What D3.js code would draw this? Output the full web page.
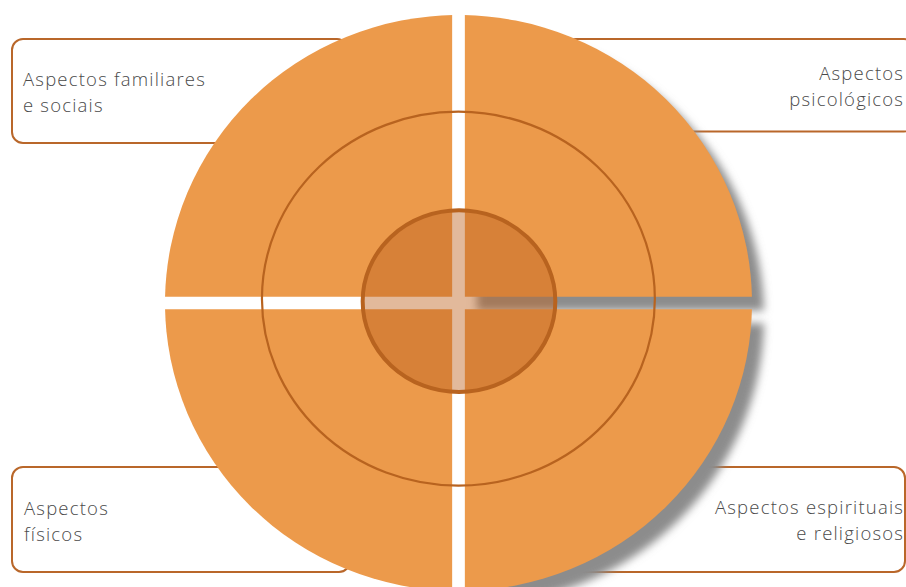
<!DOCTYPE html>
<html>
<head>
<meta charset="utf-8">
<script src="https://cdn.jsdelivr.net/npm/d3@7"></script>
<style>
  html, body { margin: 0; padding: 0; background: #fff; }
  svg { display: block; }
</style>
</head>
<body>
<svg id="chart" width="906" height="587"></svg>
<script>
// ---- data ----
const categories = ["Aspectos familiares e sociais", "Aspectos psicológicos", "Aspectos espirituais e religiosos", "Aspectos físicos"];
const labelLines = [
  ["Aspectos familiares", "e sociais"],
  ["Aspectos", "psicológicos"],
  ["Aspectos espirituais", "e religiosos"],
  ["Aspectos", "físicos"]
];
const quadrantValues = [1, 1, 1, 1];
const ringLevels = [1 / 3, 2 / 3, 1];

// ---- layout ----
const W = 906, H = 587;
const cx = 458.5, cy = 303;
const RX = 293.5, RY = 288;
const gap = 12.7;
const orange = "#EC9A4B";
const brown = "#B8631F";

const svg = d3.select("#chart");
const defs = svg.append("defs");
const blur = defs.append("filter").attr("id", "blur")
  .attr("x", "-20%").attr("y", "-20%").attr("width", "140%").attr("height", "140%");
blur.append("feGaussianBlur").attr("stdDeviation", 4.5);

const r = d3.scaleLinear().domain([0, 1]).range([0, RX]);

// label boxes (behind the disc)
const boxes = [
  { x: 12, y: 39, w: 336, h: 104, anchor: "start", tx: 23, ty: 86 },
  { x: 565, y: 39, w: 350, h: 92.5, anchor: "end", tx: 904.2, ty: 80 },
  { x: 570, y: 467, w: 335, h: 105, anchor: "end", tx: 904.2, ty: 514 },
  { x: 12, y: 467, w: 338, h: 105, anchor: "start", tx: 24, ty: 515 }
];
const gBoxes = svg.append("g");
boxes.forEach((b, i) => {
  gBoxes.append("rect")
    .attr("x", b.x).attr("y", b.y).attr("width", b.w).attr("height", b.h)
    .attr("rx", 11).attr("ry", 11)
    .attr("fill", "#fff").attr("stroke", "#B9672A").attr("stroke-width", 2);
  const t = gBoxes.append("text")
    .attr("text-anchor", b.anchor)
    .attr("font-family", "'Open Sans', Lato, sans-serif")
    .attr("font-weight", 300)
    .attr("font-size", 18.5)
    .attr("letter-spacing", 1.2)
    .attr("fill", "#4a4a4a");
  labelLines[i].forEach((ln, j) => {
    t.append("tspan").attr("x", b.tx).attr("y", b.ty + j * 25.5).text(ln);
  });
});

// pie quadrants
const pie = d3.pie().sort(null).startAngle(-Math.PI / 2).endAngle(3 * Math.PI / 2);
const arcs = pie(quadrantValues);
const arcGen = d3.arc().innerRadius(0).outerRadius(r(1));

arcs.forEach((a, i) => {
  const mid = (a.startAngle + a.endAngle) / 2;
  const sx = Math.sign(Math.sin(mid)), sy = Math.sign(-Math.cos(mid));
  const x0 = sx > 0 ? cx + gap / 2 : cx - RX - 30;
  const y0 = sy > 0 ? cy + gap / 2 : cy - RY - 30;
  defs.append("clipPath").attr("id", "q" + i)
    .append("rect").attr("x", x0).attr("y", y0)
    .attr("width", RX + 30 - gap / 2).attr("height", RY + 30 - gap / 2);
  a.sx = sx; a.sy = sy;
});

// shadows for right-hand quadrants
const gShadow = svg.append("g");
arcs.forEach((a, i) => {
  if (a.sx > 0) {
    gShadow.append("g")
      .attr("transform", "translate(12,14)")
      .attr("filter", "url(#blur)")
      .append("g").attr("clip-path", `url(#q${i})`)
      .append("path")
      .attr("d", arcGen(a))
      .attr("transform", `translate(${cx},${cy}) scale(1,${RY / RX})`)
      .attr("fill", "#8c8c8c");
  }
});

// quadrants
const gQ = svg.append("g");
arcs.forEach((a, i) => {
  gQ.append("g").attr("clip-path", `url(#q${i})`)
    .append("path")
    .attr("d", arcGen(a))
    .attr("transform", `translate(${cx},${cy}) scale(1,${RY / RX})`)
    .attr("fill", orange)
    .append("title").text(categories[i]);
});

// rings
const ringShape = [
  { dx: 0.5, dy: -1.8, adj: -1.5, k: 0.943, sw: 4, fill: "rgb(191,100,33)", fo: 0.45 },
  { dx: -0.1, dy: -4.3, adj: 0.8, k: 0.9517, sw: 2.2, fill: "none", fo: 0 }
];
const gR = svg.append("g");
ringLevels.slice(0, 2).forEach((lv, i) => {
  const s = ringShape[i];
  const rx = r(lv) + s.adj;
  gR.append("ellipse")
    .attr("cx", cx + s.dx).attr("cy", cy + s.dy)
    .attr("rx", rx)
    .attr("ry", rx * s.k)
    .attr("fill", s.fill).attr("fill-opacity", s.fo)
    .attr("stroke", brown).attr("stroke-width", s.sw);
});
</script>
</body>
</html>
